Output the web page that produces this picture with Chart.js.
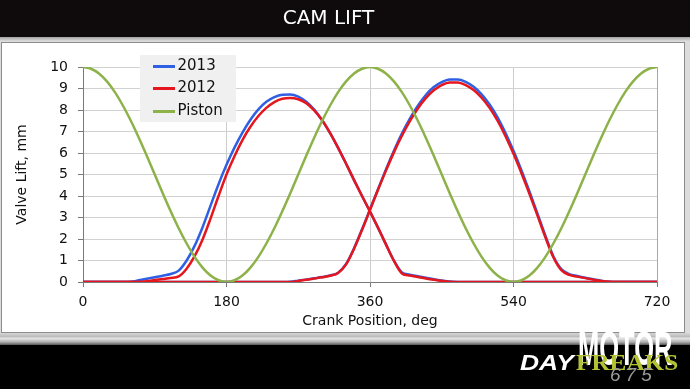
<!DOCTYPE html>
<html><head><meta charset="utf-8">
<script src="https://cdn.jsdelivr.net/npm/chart.js@4.4.1/dist/chart.umd.min.js"></script>
<style>
html,body{margin:0;padding:0;background:#000;}
#page{position:relative;width:690px;height:389px;overflow:hidden;background:#000;}
#hdr{position:absolute;left:0;top:0;width:690px;height:37px;background:#0f0b0c;}
#strip{position:absolute;left:0;top:37px;width:690px;height:4px;background:linear-gradient(#a4a4a4,#dadada);}
#panelbg{position:absolute;left:0;top:41px;width:690px;height:292px;background:#dcdcdc;}
#panel{position:absolute;left:1px;top:42px;width:682px;height:289px;background:#fff;border:1px solid #8c8c8c;}
#band{position:absolute;left:0;top:333px;width:690px;height:12px;background:linear-gradient(#d6d6d6 0%,#bcbcbc 30%,#e4e4e4 45%,#b0b0b0 75%,#555 100%);}
canvas{position:absolute;left:0;top:0;}
.logo{position:absolute;white-space:nowrap;transform-origin:0 0;line-height:1;}
#motor{left:578px;top:324px;font-family:"Liberation Sans",Arial,sans-serif;font-weight:bold;font-size:44px;color:#fff;transform:scale(0.58,1.1);}
#day{left:520px;top:352px;font-family:"Liberation Sans",Arial,sans-serif;font-weight:bold;font-style:italic;font-size:22px;color:#fff;transform:scale(1.2,1);}
#freaks{left:576px;top:350px;font-family:"Liberation Serif",serif;font-weight:bold;font-size:24px;color:#b3c232;transform:scale(1.05,1);}
#num{left:610px;top:365px;font-family:"Liberation Sans",Arial,sans-serif;font-style:italic;font-size:19px;color:#9a9a9a;letter-spacing:5px;}
</style></head><body>
<div id="page">
<div id="hdr"></div><div id="strip"></div><div id="panelbg"></div><div id="panel"></div><div id="band"></div>
<canvas id="c" width="690" height="389"></canvas>
<div class="logo" id="motor">MOTOR</div>
<div class="logo" id="day">DAY</div>
<div class="logo" id="freaks">FREAKS</div>
<div class="logo" id="num">675</div>
</div>
<script>
const chartTitle = 'CAM LIFT';
const xTitle = 'Crank Position, deg';
const yTitle = 'Valve Lift, mm';
const seriesNames = ['2013', '2012', 'Piston'];
const xTickStep = 180;
const yTickStep = 1;

const crankDeg = [0,10,20,30,40,50,60,70,80,90,100,110,120,130,140,150,160,170,180,190,200,210,220,230,240,250,260,270,280,290,300,310,320,330,340,350,360,370,380,390,400,410,420,430,440,450,460,470,480,490,500,510,520,530,540,550,560,570,580,590,600,610,620,630,640,650,660,670,680,690,700,710,720];

const piston = [10,9.92,9.70,9.33,8.83,8.21,7.50,6.71,5.87,5.00,4.13,3.29,2.50,1.79,1.17,0.67,0.30,0.08,0,
  0.08,0.30,0.67,1.17,1.79,2.50,3.29,4.13,5.00,5.87,6.71,7.50,8.21,8.83,9.33,9.70,9.92,10,
  9.92,9.70,9.33,8.83,8.21,7.50,6.71,5.87,5.00,4.13,3.29,2.50,1.79,1.17,0.67,0.30,0.08,0,
  0.08,0.30,0.67,1.17,1.79,2.50,3.29,4.13,5.00,5.87,6.71,7.50,8.21,8.83,9.33,9.70,9.92,10];

const exhaust2013 = [0,0,0,0,0,0,0.01,0.08,0.15,0.22,0.29,0.37,0.53,1.0,1.68,2.55,3.55,4.55,5.45,6.25,6.95,7.55,8.03,8.38,8.6,8.71,8.72,8.62,8.38,8.02,7.52,6.92,6.24,5.5,4.74,4.0,3.28,2.53,1.75,1.0,0.45,0.34,0.27,0.2,0.13,0.07,0.02,
  0,0,0,0,0,0,0,0,0,0,0,0,0,0,0,0,0,0,0,0,0,0,0,0,0,0];

const exhaust2012 = [0,0,0,0,0,0,0,0,0.04,0.09,0.14,0.19,0.26,0.62,1.2,1.98,2.95,4.0,5.0,5.85,6.6,7.22,7.72,8.1,8.37,8.52,8.56,8.5,8.32,7.98,7.52,6.92,6.24,5.5,4.74,4.0,3.28,2.53,1.75,0.98,0.4,0.3,0.23,0.16,0.1,0.05,0.01,
  0,0,0,0,0,0,0,0,0,0,0,0,0,0,0,0,0,0,0,0,0,0,0,0,0,0];

const intake2013 = [0,0,0,0,0,0,0,0,0,0,0,0,0,0,0,0,0,0,0,0,0,0,0,0,0,0,
  0.01,0.06,0.11,0.17,0.23,0.3,0.43,0.84,1.57,2.45,3.38,4.32,5.23,6.1,6.9,7.6,8.2,8.7,9.07,9.3,9.42,9.42,9.31,9.08,8.73,8.26,7.66,6.93,6.1,5.19,4.21,3.19,2.15,1.2,0.6,0.37,0.28,0.2,0.13,0.06,0.01,
  0,0,0,0,0,0];

const intake2012 = [0,0,0,0,0,0,0,0,0,0,0,0,0,0,0,0,0,0,0,0,0,0,0,0,0,0,
  0,0.05,0.1,0.16,0.22,0.29,0.42,0.82,1.55,2.42,3.35,4.28,5.18,6.03,6.8,7.48,8.07,8.55,8.92,9.16,9.28,9.28,9.16,8.93,8.57,8.1,7.5,6.78,5.96,5.06,4.1,3.1,2.08,1.15,0.55,0.33,0.25,0.18,0.11,0.05,0.01,
  0,0,0,0,0,0];

const colBlue = '#2f5fe3', colRed = '#e5161d', colGreen = '#8db24a';
const FONT = 'DejaVu Sans';

function legendLine(color) {
  const c = document.createElement('canvas');
  c.width = 22; c.height = 3;
  const g = c.getContext('2d');
  g.fillStyle = color; g.fillRect(0, 0, 22, 3);
  return c;
}
function pts(vals) { return crankDeg.map((d, i) => ({x: d, y: vals[i]})); }
function ds(label, vals, color, order, inLegend) {
  return {label, data: pts(vals), borderColor: color, backgroundColor: color, borderWidth: 2.5,
    pointRadius: 0, pointHoverRadius: 0, pointStyle: legendLine(color),
    cubicInterpolationMode: 'monotone', fill: false, order, inLegend};
}

const legendPlace = {
  id: 'legendPlace',
  beforeLayout(chart) {
    const lg = chart.legend;
    if (lg) lg._layers = () => [{z: 1, draw: (ca) => lg.draw(ca)}];
  },
  afterLayout(chart) {
    const lg = chart.legend, ca = chart.chartArea;
    if (!lg) return;
    const w = lg.width, h = lg.height;
    lg.left = ca.left + 67.5; lg.top = ca.top - 16;
    lg.right = lg.left + w; lg.bottom = lg.top + h;
  },
  afterDatasetsDraw(chart) {
    const ca = chart.chartArea, ctx = chart.ctx;
    ctx.save();
    ctx.fillStyle = '#f0f0f0';
    ctx.fillRect(ca.left + 57, ca.top - 12, 96, 67);
    ctx.restore();
  }
};

new Chart(document.getElementById('c'), {
  type: 'line',
  data: {
    datasets: [
      ds(seriesNames[0], exhaust2013, colBlue, 2, true),
      ds(seriesNames[0], intake2013, colBlue, 2, false),
      ds(seriesNames[1], exhaust2012, colRed, 1, true),
      ds(seriesNames[1], intake2012, colRed, 1, false),
      ds(seriesNames[2], piston, colGreen, 0, true)
    ]
  },
  options: {
    responsive: false,
    animation: false,
    devicePixelRatio: 1,
    layout: {padding: {left: 0, right: 33, top: 0, bottom: 56}},
    plugins: {
      title: {display: true, text: chartTitle, color: '#ffffff', font: {family: FONT, size: 20, weight: 'normal'}, padding: {top: 7, bottom: 36}},
      legend: {
        position: 'chartArea', align: 'start',
        labels: {
          usePointStyle: true, pointStyleWidth: 12, padding: 7.5,
          font: {family: FONT, size: 15}, color: '#111',
          filter: (item, data) => data.datasets[item.datasetIndex].inLegend,
          sort: (a, b) => seriesNames.indexOf(a.text) - seriesNames.indexOf(b.text)
        }
      },
      tooltip: {enabled: false}
    },
    scales: {
      x: {
        type: 'linear', min: 0, max: 720,
        ticks: {stepSize: xTickStep, font: {family: FONT, size: 14}, color: '#111', padding: 7, maxRotation: 0, autoSkip: false},
        grid: {color: (c) => (c.tick && c.tick.value === 720) ? '#a8a8a8' : '#cdcdcd', lineWidth: 1, tickLength: 5, tickColor: '#7a7a7a'},
        border: {color: '#7a7a7a', width: 1},
        title: {display: true, text: xTitle, font: {family: FONT, size: 14}, color: '#111', padding: {top: 0, bottom: 3}},
        afterFit(s) { s.height = 51; }
      },
      y: {
        min: 0, max: 10,
        ticks: {stepSize: yTickStep, font: {family: FONT, size: 14}, color: '#111', padding: 10},
        grid: {color: '#d2d2d2', lineWidth: 1, tickLength: 5, tickColor: '#7a7a7a'},
        border: {color: '#7a7a7a', width: 1},
        title: {display: true, text: yTitle, font: {family: FONT, size: 14}, color: '#111', padding: {top: 14, bottom: 0}},
        afterFit(s) { s.width = 83; }
      }
    }
  },
  plugins: [legendPlace]
});
</script>
</body></html>
